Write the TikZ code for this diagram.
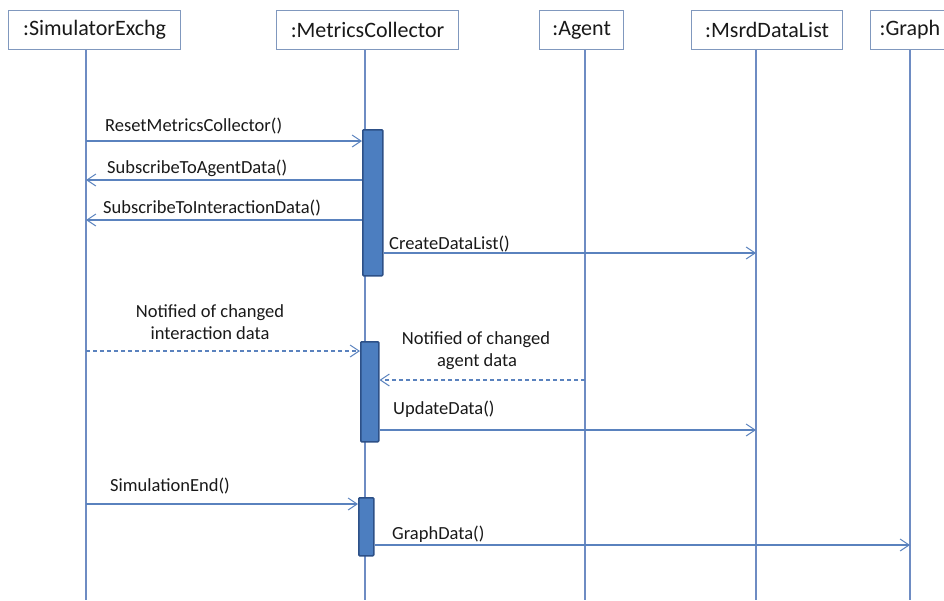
\documentclass[tikz,border=0pt]{standalone}
\usepackage{fontspec}
\setmainfont{Carlito}
\usetikzlibrary{arrows.meta}
\definecolor{hdrline}{RGB}{128,152,190}
\definecolor{lifeln}{RGB}{110,140,195}
\definecolor{msgln}{RGB}{90,130,190}
\definecolor{barfill}{RGB}{76,126,192}
\definecolor{barline}{RGB}{45,80,135}
\definecolor{txt}{RGB}{25,25,25}
\begin{document}
\begin{tikzpicture}[x=1pt,y=-1pt,
  hdr/.style={draw=hdrline, line width=1.2pt, fill=white, text=txt,
    font=\fontsize{22}{26}\selectfont, inner sep=0pt, anchor=north west, minimum height=39pt},
  life/.style={draw=lifeln, line width=1.2pt},
  bar/.style={draw=barline, fill=barfill, line width=1.5pt, rounded corners=1pt, anchor=north west, inner sep=0pt},
  msg/.style={draw=msgln, line width=1.1pt, -{Straight Barb[length=9pt,width=12pt,line width=1pt]}},
  ret/.style={msg, dash pattern=on 4pt off 3pt},
  lbl/.style={text=txt, font=\fontsize{18.5}{22}\selectfont, inner sep=0pt, anchor=base west},
  lblc/.style={lbl, anchor=base}]
\useasboundingbox (0,0) rectangle (944,600);
\clip (0,0) rectangle (944,600);
% headers
\node[hdr, minimum width=172pt] (sim) at (8,10) {:SimulatorExchg};
\node[hdr, minimum width=182pt] (mc) at (276,10) {:MetricsCollector};
\node[hdr, minimum width=84pt] (ag) at (539,10) {:Agent};
\node[hdr, minimum width=151pt] (md) at (691,10) {:MsrdDataList};
\node[hdr, minimum width=120pt, text width=112pt, inner xsep=4pt, align=left] (gr) at (870,10) {\hspace*{5pt}:Graph};
% lifeline ends
\coordinate (simB) at (86,600);
\coordinate (mcB) at (365,600);
\coordinate (agB) at (585,600);
\coordinate (mdB) at (756,600);
\coordinate (grB) at (910,600);
\draw[life] (sim.south -| simB) -- (simB);
\draw[life] (mc.south -| mcB) -- (mcB);
\draw[life] (ag.south -| agB) -- (agB);
\draw[life] (md.south -| mdB) -- (mdB);
\draw[life] (gr.south -| grB) -- (grB);
% activation bars
\node[bar, minimum width=20pt, minimum height=146pt] (b1) at (362,129) {};
\node[bar, minimum width=18pt, minimum height=100pt] (b2) at (360,341) {};
\node[bar, minimum width=15pt, minimum height=58pt] (b3) at (358,497) {};
% messages
\draw[msg] (simB |- 0,141) -- (b1.west |- 0,141);
\node[lbl] (l1) at (105,131) {ResetMetricsCollector()};
\draw[msg] (b1.west |- 0,180) -- (simB |- 0,180);
\node[lbl] (l2) at (107,173) {SubscribeToAgentData()};
\draw[msg] (b1.west |- 0,220) -- (simB |- 0,220);
\node[lbl] (l3) at (103,213) {SubscribeToInteractionData()};
\draw[msg] (b1.east |- 0,253) -- (mdB |- 0,253);
\node[lbl] (l4) at (389,249) {CreateDataList()};
\draw[ret] (simB |- 0,351) -- (b2.west |- 0,351);
\node[lblc] (l5a) at (210,317) {Notified of changed};
\node[lblc] (l5b) at (210,339) {interaction data};
\draw[ret] (agB |- 0,380) -- (b2.east |- 0,380);
\node[lblc] (l6a) at (476,344) {Notified of changed};
\node[lblc] (l6b) at (477,366) {agent data};
\draw[msg] (b2.east |- 0,430) -- (mdB |- 0,430);
\node[lbl] (l7) at (393,414) {UpdateData()};
\draw[msg] (simB |- 0,504) -- (b3.west |- 0,504);
\node[lbl] (l8) at (110,491) {SimulationEnd()};
\draw[msg] (b3.east |- 0,545) -- (grB |- 0,545);
\node[lbl] (l9) at (392,539) {GraphData()};
\end{tikzpicture}
\end{document}
